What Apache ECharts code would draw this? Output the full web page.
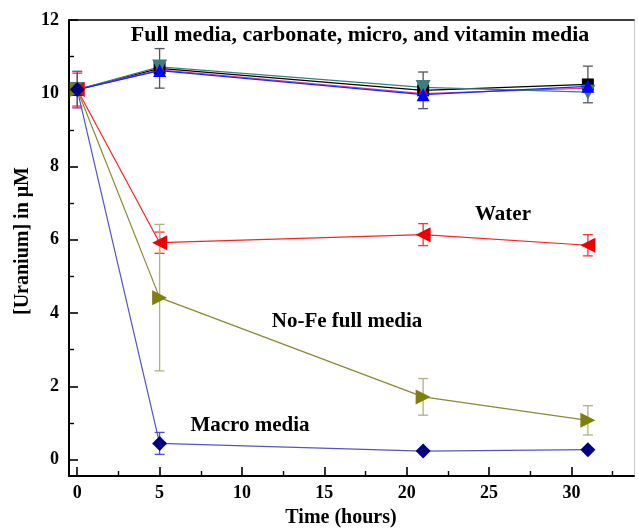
<!DOCTYPE html>
<html>
<head>
<meta charset="utf-8">
<script src="https://cdn.jsdelivr.net/npm/echarts@6/dist/echarts.min.js"></script>
<style>html,body{margin:0;padding:0;background:#fff}#c{width:639px;height:528px}</style>
</head>
<body>
<div id="c"></div>
<script>
var times = [0, 5, 21, 31];
var fullMedia = [10.1, 10.68, 10.08, 10.24];
var fullErr = [null, 0.54, 0.5, 0.5];
var carbonate = [10.1, 10.64, 9.99, 10.14];
var micro = [10.1, 10.62, 9.96, 10.19];
var vitamin = [10.1, 10.72, 10.16, 10.03];
var water = [10.1, 5.92, 6.14, 5.85];
var waterErr = [0.45, 0.29, 0.3, 0.29];
var noFe = [10.1, 4.42, 1.71, 1.07];
var noFeErr = [null, 2.0, 0.5, 0.4];
var macro = [10.1, 0.44, 0.23, 0.27];
var macroErr = [0.5, 0.3, null, null];
var yMajor = [0, 2, 4, 6, 8, 10, 12];
var yMinor = [1, 3, 5, 7, 9, 11];
var xMajor = [0, 5, 10, 15, 20, 25, 30];
var xMinor = [2.5, 7.5, 12.5, 17.5, 22.5, 27.5, 32.5];

var FONT = '"Liberation Serif", "Times New Roman", serif';

function pts(vals) { return times.map(function (t, i) { return [t, vals[i]]; }); }
function errPts(vals, errs) {
  var out = [];
  times.forEach(function (t, i) { if (errs[i] != null) out.push([t, vals[i], errs[i]]); });
  return out;
}
function errSeries(vals, errs, color, z) {
  return {
    type: 'custom', z: z, silent: true,
    data: errPts(vals, errs),
    encode: { x: 0, y: 1 },
    renderItem: function (params, api) {
      var x = api.value(0), y = api.value(1), e = api.value(2);
      var t = api.coord([x, y + e]), b = api.coord([x, y - e]);
      var hw = 5;
      var st = { stroke: color, lineWidth: 1.3 };
      return { type: 'group', children: [
        { type: 'line', shape: { x1: t[0], y1: t[1], x2: b[0], y2: b[1] }, style: st },
        { type: 'line', shape: { x1: t[0] - hw, y1: t[1], x2: t[0] + hw, y2: t[1] }, style: st },
        { type: 'line', shape: { x1: b[0] - hw, y1: b[1], x2: b[0] + hw, y2: b[1] }, style: st }
      ]};
    }
  };
}
function lineSeries(name, vals, lineColor, markColor, symbol, size, rot, z) {
  return {
    name: name, type: 'line', data: pts(vals), z: z,
    symbol: symbol, symbolSize: size, symbolRotate: rot || 0,
    showAllSymbol: true,
    lineStyle: { color: lineColor, width: 1.2 },
    itemStyle: { color: markColor, borderWidth: 0 },
    emphasis: { disabled: true }
  };
}

var grid = { left: 69, right: 5, top: 20, bottom: 52 };
var axisLineStyle = { color: '#000', width: 2 };
var labelStyle = { color: '#000', fontFamily: FONT, fontWeight: 'bold', fontSize: 18 };

var chart = echarts.init(document.getElementById('c'), null, { renderer: 'canvas' });
chart.setOption({
  animation: false,
  backgroundColor: '#fff',
  grid: grid,
  xAxis: [
    { type: 'value', min: -0.5, max: 33.8, position: 'bottom',
      axisLine: { show: true, lineStyle: axisLineStyle, onZero: false },
      axisTick: { show: true, inside: true, length: 9, lineStyle: { color: '#000', width: 1.6 }, customValues: xMajor },
      axisLabel: Object.assign({ margin: 8, customValues: xMajor }, labelStyle),
      splitLine: { show: false } },
    { type: 'value', min: -0.5, max: 33.8, position: 'bottom',
      axisLine: { show: false, onZero: false },
      axisTick: { show: true, inside: true, length: 5, lineStyle: { color: '#000', width: 1.4 }, customValues: xMinor },
      axisLabel: { show: false }, splitLine: { show: false } },
    { type: 'value', min: -0.5, max: 33.8, position: 'top',
      axisLine: { show: true, lineStyle: { color: '#000', width: 1.6 }, onZero: false },
      axisTick: { show: false }, axisLabel: { show: false }, splitLine: { show: false } }
  ],
  yAxis: [
    { type: 'value', min: -0.45, max: 12, position: 'left',
      axisLine: { show: true, lineStyle: axisLineStyle, onZero: false },
      axisTick: { show: true, inside: true, length: 9, lineStyle: { color: '#000', width: 1.6 }, customValues: yMajor },
      axisLabel: Object.assign({ margin: 10, customValues: yMajor }, labelStyle),
      splitLine: { show: false } },
    { type: 'value', min: -0.45, max: 12, position: 'left',
      axisLine: { show: false, onZero: false },
      axisTick: { show: true, inside: true, length: 5, lineStyle: { color: '#000', width: 1.4 }, customValues: yMinor },
      axisLabel: { show: false }, splitLine: { show: false } },
    { type: 'value', min: -0.45, max: 12, position: 'right',
      axisLine: { show: true, lineStyle: { color: '#c8c8c8', width: 1 }, onZero: false },
      axisTick: { show: false }, axisLabel: { show: false }, splitLine: { show: false } }
  ],
  series: [
    errSeries(fullMedia, fullErr, '#555555', 2),
    lineSeries('Full media', fullMedia, '#000000', '#000000', 'rect', 12, 0, 3),
    lineSeries('Carbonate', carbonate, '#d0409a', '#cc0066', 'circle', 8, 0, 3),
    lineSeries('Vitamin', vitamin, '#3d7d7d', '#3d7d7d', 'triangle', 15, 180, 3),
    lineSeries('Micro', micro, '#2020ff', '#0000ff', 'triangle', 13, 0, 4),
    errSeries(water, waterErr, '#ff3030', 2),
    lineSeries('Water', water, '#ff2020', '#ee0000', 'triangle', 15, 90, 4),
    errSeries(noFe, noFeErr, '#b3b37a', 2),
    lineSeries('No-Fe full media', noFe, '#8a8a30', '#7f7f10', 'triangle', 15, -90, 4),
    errSeries(macro, macroErr, '#5050c0', 2),
    lineSeries('Macro media', macro, '#5555c0', '#000080', 'diamond', 15, 0, 5)
  ],
  graphic: [
    { type: 'text', x: 360, y: 35, style: { text: 'Full media, carbonate, micro, and vitamin media', font: 'bold 22px ' + FONT, fill: '#000', align: 'center', verticalAlign: 'middle' }, z: 10 },
    { type: 'text', x: 503, y: 215, style: { text: 'Water', font: 'bold 21px ' + FONT, fill: '#000', align: 'center', verticalAlign: 'middle' }, z: 10 },
    { type: 'text', x: 347, y: 322, style: { text: 'No-Fe full media', font: 'bold 21px ' + FONT, fill: '#000', align: 'center', verticalAlign: 'middle' }, z: 10 },
    { type: 'text', x: 250, y: 426, style: { text: 'Macro media', font: 'bold 21px ' + FONT, fill: '#000', align: 'center', verticalAlign: 'middle' }, z: 10 },
    { type: 'text', x: 341, y: 518, style: { text: 'Time (hours)', font: 'bold 20px ' + FONT, fill: '#000', align: 'center', verticalAlign: 'middle' }, z: 10 },
    { type: 'text', x: 23, y: 241, rotation: Math.PI / 2, style: { text: '[Uranium] in μM', font: 'bold 20px ' + FONT, fill: '#000', align: 'center', verticalAlign: 'middle' }, z: 10 }
  ]
});
</script>
</body>
</html>
